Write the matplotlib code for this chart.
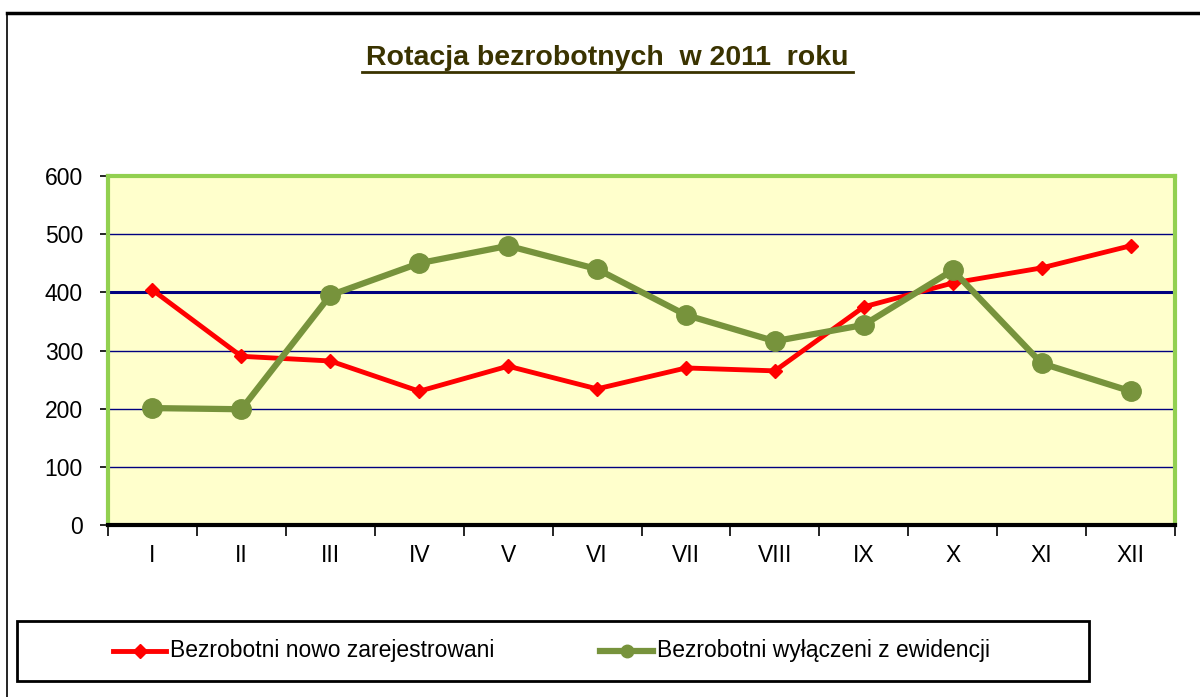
import numpy as np
import matplotlib.pyplot as plt
from matplotlib.lines import Line2D
from matplotlib.patches import Rectangle

months = ['I', 'II', 'III', 'IV', 'V', 'VI', 'VII', 'VIII', 'IX', 'X', 'XI', 'XII']
nowo_zarejestrowani = [404, 290, 282, 230, 273, 234, 270, 265, 375, 416, 442, 480]
wylaczeni = [201, 199, 395, 450, 480, 440, 361, 316, 344, 438, 278, 230]

title = 'Rotacja bezrobotnych  w 2011  roku'
label_red = 'Bezrobotni nowo zarejestrowani'
label_green = 'Bezrobotni wyłączeni z ewidencji'

plt.rcParams['font.family'] = ['Liberation Sans', 'DejaVu Sans']

W, H = 1200, 697
fig = plt.figure(figsize=(12, 6.97), dpi=100)


def fx(px):
    return px / W


def fy(py):
    return 1 - py / H


# outer frame (left and top only)
fig.add_artist(Line2D([fx(7), fx(7)], [0, fy(13)], color='black', lw=1.2))
fig.add_artist(Line2D([fx(7), 1], [fy(13), fy(13)], color='black', lw=2.5))

# title with underline
fig.text(fx(607), fy(58), title, ha='center', va='center',
         fontsize=20.5, fontweight='bold', color='#3a3300')
fig.add_artist(Line2D([fx(362), fx(853)], [fy(72), fy(72)], color='#3a3300', lw=2))

ax = fig.add_axes([fx(108), fy(525), fx(1175) - fx(108), fy(176) - fy(525)])
ax.set_facecolor('#ffffcc')
x = np.arange(len(months))
ax.set_xlim(-0.5, len(months) - 0.5)
ax.set_ylim(0, 600)

for v in range(100, 600, 100):
    ax.axhline(v, color='#000080', lw=2.2 if v == 400 else 1.0, zorder=1)

ax.plot(x, nowo_zarejestrowani, color='#ff0000', lw=3.5, marker='D',
        markersize=7, zorder=3, label=label_red)
ax.plot(x, wylaczeni, color='#77933c', lw=4.5, marker='o',
        markersize=14, zorder=4, label=label_green)

for side in ['left', 'top', 'right']:
    ax.spines[side].set_color('#92d050')
    ax.spines[side].set_linewidth(3)
ax.spines['bottom'].set_color('black')
ax.spines['bottom'].set_linewidth(3)

ax.set_yticks(range(0, 601, 100))
ax.tick_params(axis='y', length=6, width=1.2, labelsize=16.5, pad=12)
ax.set_xticks(x)
ax.set_xticklabels(months)
ax.set_xticks(np.arange(-0.5, len(months), 1), minor=True)
ax.tick_params(axis='x', which='major', length=0, labelsize=16.5, pad=14)
ax.tick_params(axis='x', which='minor', length=8, width=1.2)

# legend box
fig.add_artist(Rectangle((fx(17), fy(681)), fx(1089) - fx(17), fy(621) - fy(681),
                         transform=fig.transFigure, fill=False,
                         edgecolor='black', lw=2))
ly = fy(651)
fig.add_artist(Line2D([fx(113), fx(166)], [ly, ly], color='#ff0000', lw=3.5))
fig.add_artist(Line2D([fx(139.5)], [ly], color='#ff0000', marker='D', markersize=7))
fig.text(fx(170), ly, label_red, ha='left', va='center', fontsize=16.5)
fig.add_artist(Line2D([fx(600), fx(653)], [ly, ly], color='#77933c', lw=4.5))
fig.add_artist(Line2D([fx(626.5)], [ly], color='#77933c', marker='o', markersize=9))
fig.text(fx(657), ly, label_green, ha='left', va='center', fontsize=16.5)

fig.savefig('out.png', dpi=100)
